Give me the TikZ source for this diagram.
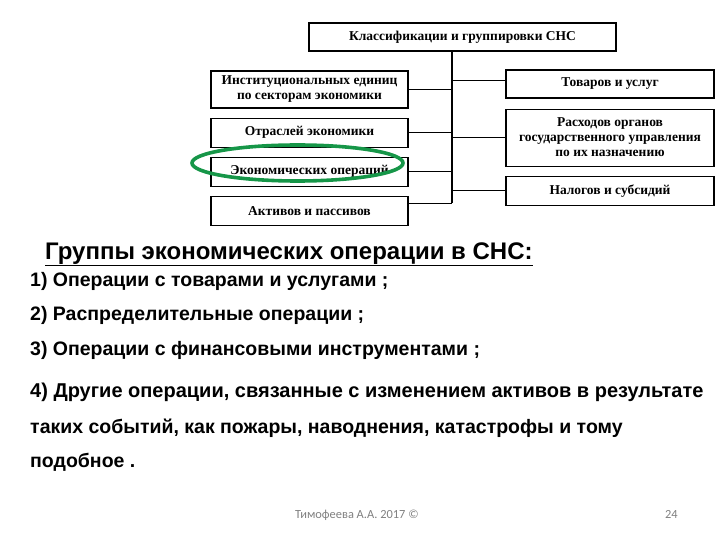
\documentclass[tikz,border=0pt]{standalone}
\usepackage{fontspec}
\setmainfont{Liberation Sans}
\newfontfamily\boxfont{Liberation Serif}
\newfontfamily\footfont{Carlito}
\usetikzlibrary{positioning}
\definecolor{ovalgreen}{RGB}{22,150,72}
\definecolor{footgray}{RGB}{128,128,128}
\tikzset{%
	sbox/.style     = {draw, rectangle, line width=1.1pt, align=center, inner sep=1pt, font=\boxfont\bfseries\fontsize{13.5}{15}\selectfont}, % box of the scheme
	topbox/.style   = {sbox, minimum width=307pt, minimum height=28pt},
	leftbox/.style  = {sbox, minimum width=197pt, minimum height=29pt},
	rightbox/.style = {sbox, minimum width=208pt, minimum height=29pt},
	link/.style     = {line width=0.8pt},
	heading/.style  = {anchor=base west, inner sep=0pt, font=\bfseries\fontsize{24}{28}\selectfont},
	listline/.style = {anchor=base west, inner sep=0pt, font=\bfseries\fontsize{19.5}{23}\selectfont},
	footer/.style   = {anchor=base west, inner sep=0pt, text=footgray, font=\footfont\fontsize{12.4}{14}\selectfont},
}

\begin{document}
\begin{tikzpicture}[x=1pt,y=-1pt]
	\useasboundingbox (0,0) rectangle (720,540);
	\node [topbox] (sns) at (462.5,37) {Классификации и группировки СНС};
	\node [leftbox,minimum height=37pt] (inst) at (309.5,89.5) {Институциональных единиц\\по секторам экономики};
	\node [leftbox] (otr) [below=9pt of inst] {Отраслей экономики};
	\node [leftbox] (econ) [below=9pt of otr] {Экономических операций};
	\node [leftbox] (akt) [below=9pt of econ] {Активов и пассивов};
	\node [rightbox,minimum height=28pt] (tov) at (610,84) {Товаров и услуг};
	\node [rightbox,minimum height=57pt] (rash) [below=10pt of tov] {Расходов органов\\государственного управления\\по их назначению};
	\node [rightbox] (nal) [below=9pt of rash] {Налогов и субсидий};
	\coordinate (trunk) at (452,203);

	\draw[line width=1.1pt] (sns.south -| trunk) -- (trunk);
	\draw[link] (inst) -- (inst -| trunk);
	\draw[link] (otr) -- (otr -| trunk);
	\draw[link] (econ) -- (econ -| trunk);
	\draw[link] (akt.east |- trunk) -- (trunk);
	\draw[link] ([yshift=4pt]tov.west) -- ([yshift=4pt]tov.west -| trunk);
	\draw[link] (rash) -- (rash -| trunk);
	\draw[link] (nal) -- (nal -| trunk);

	\draw[ovalgreen,line width=3.6pt] (297.5,163) ellipse [x radius=105.5pt, y radius=18pt];

	\node [heading] (head) at (45,259) {\underline{Группы экономических операции в СНС:}};
	\node [listline] (op1) at (30,286) {1) Операции с товарами и услугами ;};
	\node [listline] (op2) at (30,320) {2) Распределительные операции ;};
	\node [listline] (op3) at (30,355) {3) Операции с финансовыми инструментами ;};
	\node [listline,font=\bfseries\fontsize{20}{23}\selectfont] (op4) at (30,397) {4) Другие операции, связанные с изменением активов в результате};
	\node [listline] (op5) at (30,433) {таких событий, как пожары, наводнения, катастрофы и тому};
	\node [listline] (op6) at (30,467) {подобное .};
	\node [footer] (author) at (295,518) {Тимофеева А.А. 2017 ©};
	\node [footer] (page) at (665,518) {24};
\end{tikzpicture}
\end{document}
